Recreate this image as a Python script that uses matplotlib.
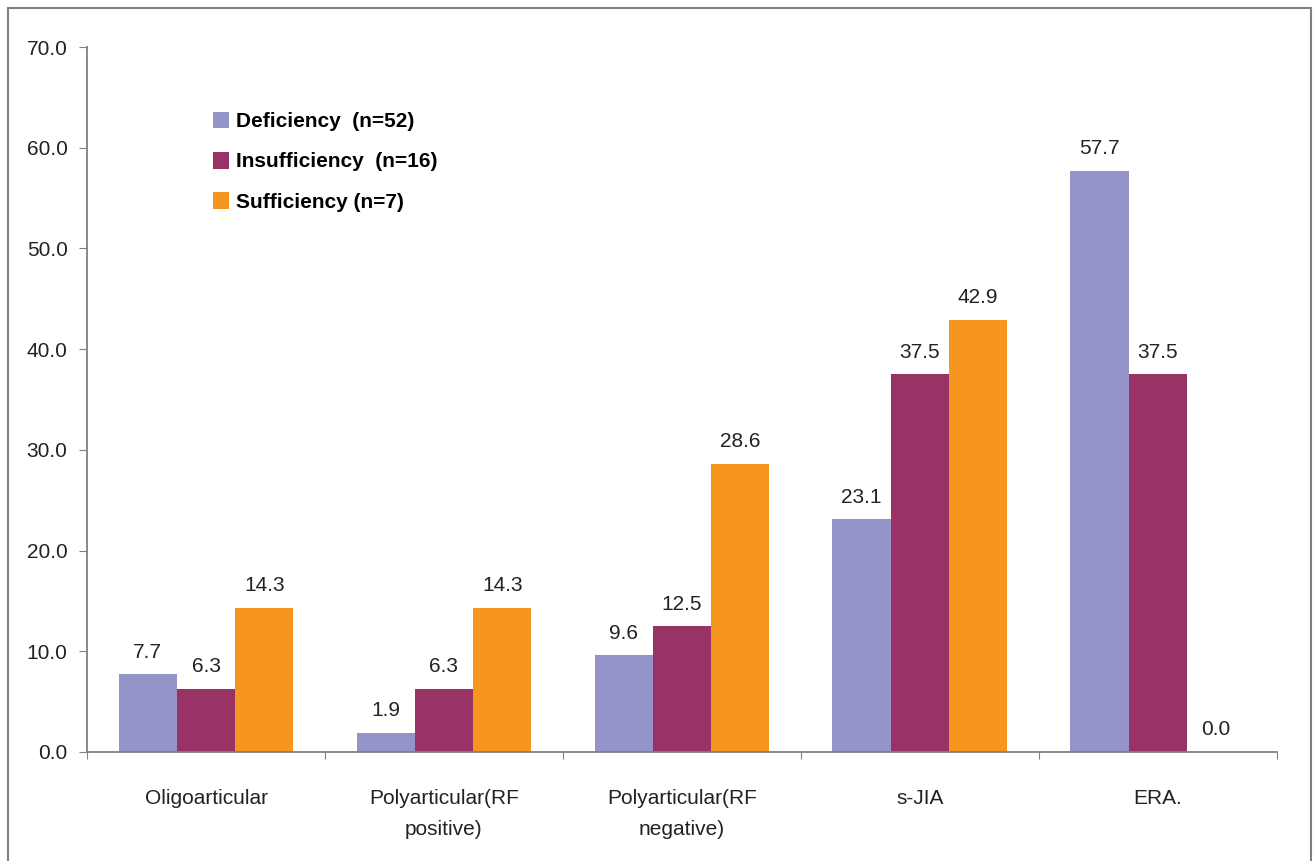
import numpy as np
import matplotlib.pyplot as plt
from matplotlib.patches import Rectangle

plt.rcParams['font.family'] = ['Liberation Sans', 'DejaVu Sans']

categories = ['Oligoarticular', 'Polyarticular(RF\npositive)',
              'Polyarticular(RF\nnegative)', 's-JIA', 'ERA.']
series_names = ['Deficiency  (n=52)', 'Insufficiency  (n=16)', 'Sufficiency (n=7)']
deficiency = [7.7, 1.9, 9.6, 23.1, 57.7]
insufficiency = [6.3, 6.3, 12.5, 37.5, 37.5]
sufficiency = [14.3, 14.3, 28.6, 42.9, 0.0]
yticks = [0, 10, 20, 30, 40, 50, 60, 70]

colors = ['#9494C8', '#993366', '#F7961E']

fig = plt.figure(figsize=(13.15, 8.61), dpi=100)
ax = fig.add_axes([0.0662, 0.1266, 0.9048, 0.8188])

# thin frame around the whole picture
fig.patches.append(Rectangle((8 / 1315, -0.05), 1303 / 1315, 1.05 - 8 / 861,
                             transform=fig.transFigure, fill=False,
                             edgecolor='#808080', linewidth=1.5))

x = np.arange(len(categories))
w = 0.245
for i, (vals, name) in enumerate(zip([deficiency, insufficiency, sufficiency], series_names)):
    pos = x + (i - 1) * w
    ax.bar(pos, vals, width=w, color=colors[i], label=name)
    for p, v in zip(pos, vals):
        ax.annotate(f'{v:.1f}', (p, v), xytext=(0, 9), textcoords='offset points',
                    ha='center', va='bottom', fontsize=15, color='#222222')

ax.set_xlim(-0.5, len(categories) - 0.5)
ax.set_ylim(0, 70)
ax.set_yticks(yticks)
ax.set_yticklabels([f'{t:.1f}' for t in yticks], fontsize=15, color='#222222')

# categories sit between the ticks
ax.set_xticks(np.arange(len(categories) + 1) - 0.5)
ax.set_xticklabels([])
ax.set_xticks(x, minor=True)
ax.set_xticklabels(categories, minor=True, fontsize=15, color='#222222',
                   linespacing=1.75)
ax.tick_params(axis='x', which='minor', length=0, pad=27)
ax.tick_params(axis='x', which='major', length=5, color='#808080')
ax.tick_params(axis='y', length=6, color='#808080', pad=8)

for s in ['top', 'right']:
    ax.spines[s].set_visible(False)
for s in ['left', 'bottom']:
    ax.spines[s].set_color('#808080')
    ax.spines[s].set_linewidth(1.3)

leg = ax.legend(loc='upper left', bbox_to_anchor=(0.09, 0.935), frameon=False,
                prop={'size': 15, 'weight': 'bold'}, handlelength=0.75,
                handleheight=0.85, handletextpad=0.35, labelspacing=1.0)

fig.savefig('out.png', dpi=100)
